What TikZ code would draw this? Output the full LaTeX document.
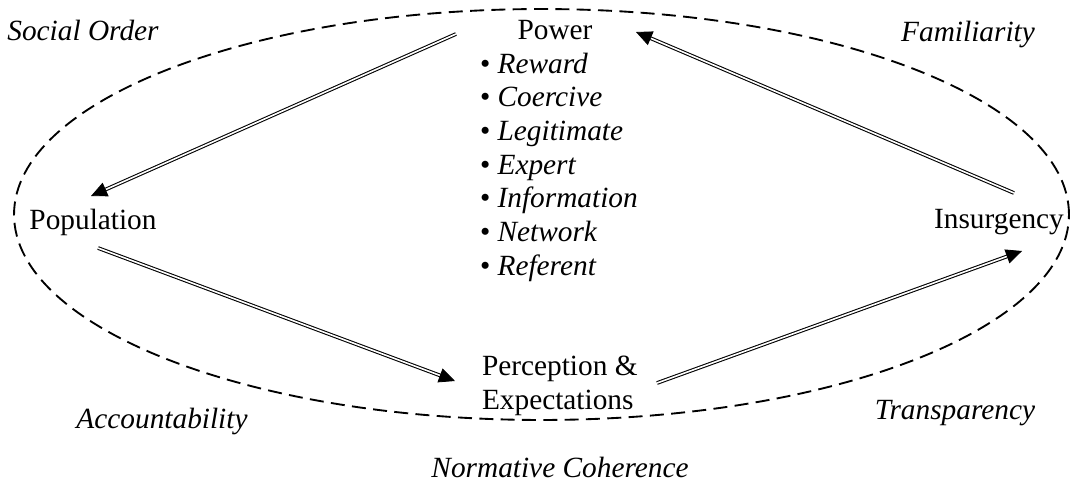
\documentclass[tikz,border=0pt]{standalone}
\usepackage{fontspec}
\setmainfont{Liberation Serif}
\usetikzlibrary{arrows.meta,calc}
\begin{document}
\begin{tikzpicture}[x=0.75pt,y=-0.75pt,
  every node/.style={inner sep=0pt, outer sep=0pt, font=\fontsize{22}{25.3}\selectfont},
  lbl/.style={font=\fontsize{22}{25.3}\selectfont\itshape},
  bound/.style={dash pattern=on 10.5pt off 5.5pt, line width=1.4pt},
  dbl/.style={double, double distance=1.2pt, line width=0.8pt, shorten >=8pt},
  headarrow/.style={-{Triangle[length=12pt,width=11pt]}, line width=0.6pt}
]
\useasboundingbox (0,0) rectangle (1074,483);

% boundary
\draw[bound] (541.5,214.5) ellipse [x radius=395.6pt, y radius=154.1pt];

% main nodes
\node (pow) at (555,30) {Power};
\foreach \w [count=\i] in {Reward,Coercive,Legitimate,Expert,Information,Network,Referent}
  \node[anchor=base west] (b\i) at (480,{73+33.7*(\i-1)}) {\textbullet\ \textit{\w}};
\node (pop) at (93,222) {Population};
\node (ins) at (999,222) {Insurgency};
\node[anchor=west, align=left] (per) at (482,386) {Perception \&\\Expectations};

% corner labels
\node[lbl] (so) at (83,30) {Social Order};
\node[lbl] (fa) at (968,34) {Familiarity};
\node[lbl] (ac) at (162,421) {Accountability};
\node[lbl] (tr) at (955,413) {Transparency};
\node[lbl] (nc) at (560,467) {Normative Coherence};

% connector ends
\coordinate (a1s) at (456,34);   \coordinate (a1e) at (91,196);
\coordinate (a2s) at (98,248);   \coordinate (a2e) at (455,381);
\coordinate (a3s) at (657,383);  \coordinate (a3e) at (1022,251);
\coordinate (a4s) at (1014,193); \coordinate (a4e) at (636,32);

\foreach \s/\e in {a1s/a1e,a2s/a2e,a3s/a3e,a4s/a4e}{
  \draw[dbl] (\s) -- (\e);
  \draw[headarrow] ($(\e)!4pt!(\s)$) -- (\e);
}
\end{tikzpicture}
\end{document}
